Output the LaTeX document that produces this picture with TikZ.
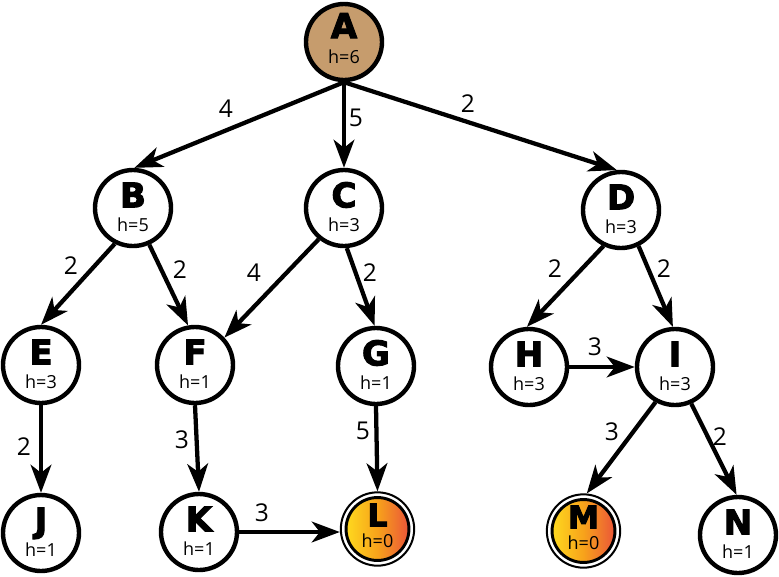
\documentclass[tikz,border=0pt]{standalone}
\usepackage{fontspec}
\setmainfont{Open Sans}
\newfontfamily\heavy{DejaVu Sans}[BoldFeatures={FakeBold=3}]
\usetikzlibrary{arrows.meta}
\definecolor{tanfill}{HTML}{C69C6D}
\definecolor{goalL}{HTML}{FFE21F}
\definecolor{goalM}{HTML}{F7A21B}
\definecolor{goalR}{HTML}{E8483E}
\newcommand\ndtxt[5][25.5]{%
  \smash{\makebox[0pt]{\raisebox{#4}{\heavy\bfseries\fontsize{#1}{26}\selectfont #2}}}%
  \smash{\makebox[0pt]{\raisebox{#5}{\fontsize{13.5}{14}\selectfont h=#3}}}}
\tikzset{
  st/.style={circle, draw=black, line width=3.3pt, minimum size=57pt, inner sep=0pt, fill=white},
  goal/.style={circle, draw=black, line width=1.5pt, minimum size=55pt, inner sep=0pt, fill=white,
    path picture={\shadedraw[draw=black, line width=2.2pt, left color=goalL, right color=goalR, middle color=goalM]
      (path picture bounding box.center) circle (23.6pt);}},
  edge/.style={line width=3.2pt, -{Stealth[length=21pt,width=15.5pt,inset=6pt]}},
  lbl/.style={inner sep=0pt, font=\fontsize{18.4}{19}\selectfont}
}
\begin{document}
\begin{tikzpicture}[x=0.75pt, y=-0.75pt]
\useasboundingbox (0,0) rectangle (779,576);
% nodes
\node[st, fill=tanfill] (A) at (344,42) {\ndtxt{A}{6}{3pt}{-15.75pt}};
\node[st] (B) at (133,208) {\ndtxt{B}{5}{0.5pt}{-17.25pt}};
\node[st] (C) at (344,208) {\ndtxt{C}{3}{0.5pt}{-17.25pt}};
\node[st] (D) at (621,210) {\ndtxt{D}{3}{0.5pt}{-17.25pt}};
\node[st] (E) at (41,365) {\ndtxt{E}{3}{0.5pt}{-17.25pt}};
\node[st] (F) at (195,365) {\ndtxt{F}{1}{0.5pt}{-17.25pt}};
\node[st] (G) at (376,366) {\ndtxt{G}{1}{0.5pt}{-17.25pt}};
\node[st] (H) at (529,367) {\ndtxt{H}{3}{0.5pt}{-17.25pt}};
\node[st] (I) at (675,367) {\ndtxt{I}{3}{0.5pt}{-17.25pt}};
\node[st] (J) at (41,533) {\ndtxt{J}{1}{0.5pt}{-17.25pt}};
\node[st] (K) at (199,532) {\ndtxt{K}{1}{0.5pt}{-17.25pt}};
\node[goal] (L) at (377.5,529) {\ndtxt[23.5]{L}{0}{2pt}{-13.5pt}};
\node[goal] (M) at (583.5,531) {\ndtxt[23.5]{M}{0}{2pt}{-13.5pt}};
\node[st] (N) at (738,535) {\ndtxt{N}{1}{0.5pt}{-17.25pt}};
% edges
\draw[edge] (A.south) -- (B.88);
\draw[edge] (A.south) -- (C.north);
\draw[edge] (A.south) -- (D.96);
\draw[edge] (B.-117) -- (E.90);
\draw[edge] (B.-66) -- (F.100);
\draw[edge] (C.-129) -- (F.43);
\draw[edge] (C.-86) -- (G.92);
\draw[edge] (D.-116) -- (H.93);
\draw[edge] (D.-64) -- (I.93);
\draw[edge] (H.east) -- (I.west);
\draw[edge] (E.south) -- (J.north);
\draw[edge] (F.south) -- (K.north);
\draw[edge] (G.south) -- (L.north);
\draw[edge] (K.east) -- (K.east -| L.west);
\draw[edge] (I.-119) -- (M.85);
\draw[edge] (I.-66) -- (N.92);
% edge labels
\node[lbl] (lAB) at (226,109) {4};
\node[lbl] (lAC) at (356,118) {5};
\node[lbl] (lAD) at (468,104) {2};
\node[lbl] (lBE) at (71,266) {2};
\node[lbl] (lBF) at (180,270) {2};
\node[lbl] (lCF) at (254,273) {4};
\node[lbl] (lCG) at (370,273) {2};
\node[lbl] (lDH) at (555,269) {2};
\node[lbl] (lDI) at (664,269) {2};
\node[lbl] (lHI) at (595,347) {3};
\node[lbl] (lEJ) at (24,447) {2};
\node[lbl] (lFK) at (182,440) {3};
\node[lbl] (lKL) at (262,513) {3};
\node[lbl] (lGL) at (363,431) {5};
\node[lbl] (lIM) at (612,432) {3};
\node[lbl] (lIN) at (720,437) {2};
\end{tikzpicture}
\end{document}
